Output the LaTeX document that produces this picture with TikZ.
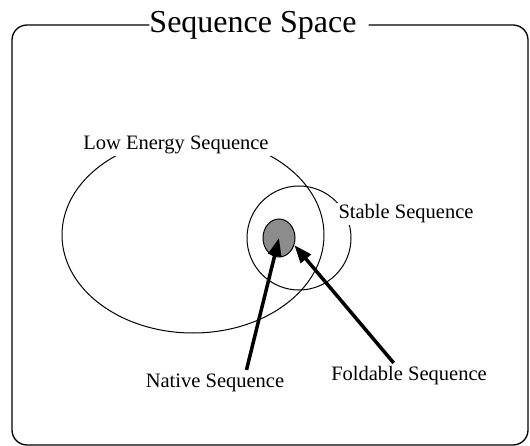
\documentclass[tikz,border=0pt]{standalone}
\usepackage{fontspec}
\setmainfont{Liberation Serif}
\usetikzlibrary{arrows.meta,shapes.geometric}

\begin{document}
\begin{tikzpicture}[x=1pt, y=-1pt, >={Triangle[length=18pt,width=13pt]},
  every node/.style={font=\fontsize{20.5}{24}\selectfont},
  lbl/.style={fill=white, inner sep=2pt},
  pointer/.style={->, line width=3.5pt, shorten <=2pt}]
  \useasboundingbox (0,0) rectangle (530,446);
  % frame and title
  \node[lbl, font=\fontsize{32}{36}\selectfont, inner sep=0pt] (title) at (253,25) {Sequence Space};
  \draw[line width=1.3pt, rounded corners=15pt] ([xshift=12pt]title.east) -| (528,445) -| (12,25) -- (title.west);
  % sets
  \draw[line width=1pt] (193,235) ellipse [x radius=131, y radius=98];
  \draw[line width=1pt] (299,238) circle [radius=52];
  \node[ellipse, draw, line width=1pt, fill=black!45, minimum width=32pt, minimum height=38pt, inner sep=0pt] (core) at (279,238) {};
  % labels
  \node[lbl] (low) at (176,145) {Low Energy Sequence};
  \node[lbl] (stable) at (406,214) {Stable Sequence};
  \node[lbl] (native) at (215,383) {Native Sequence};
  \node[lbl] (foldable) at (409,376) {Foldable Sequence};
  % arrows
  \draw[pointer] ([xshift=31pt]native.north) -- (core.center);
  \draw[pointer] ([xshift=-14pt]foldable.north) -- (core.-25);
\end{tikzpicture}
\end{document}
